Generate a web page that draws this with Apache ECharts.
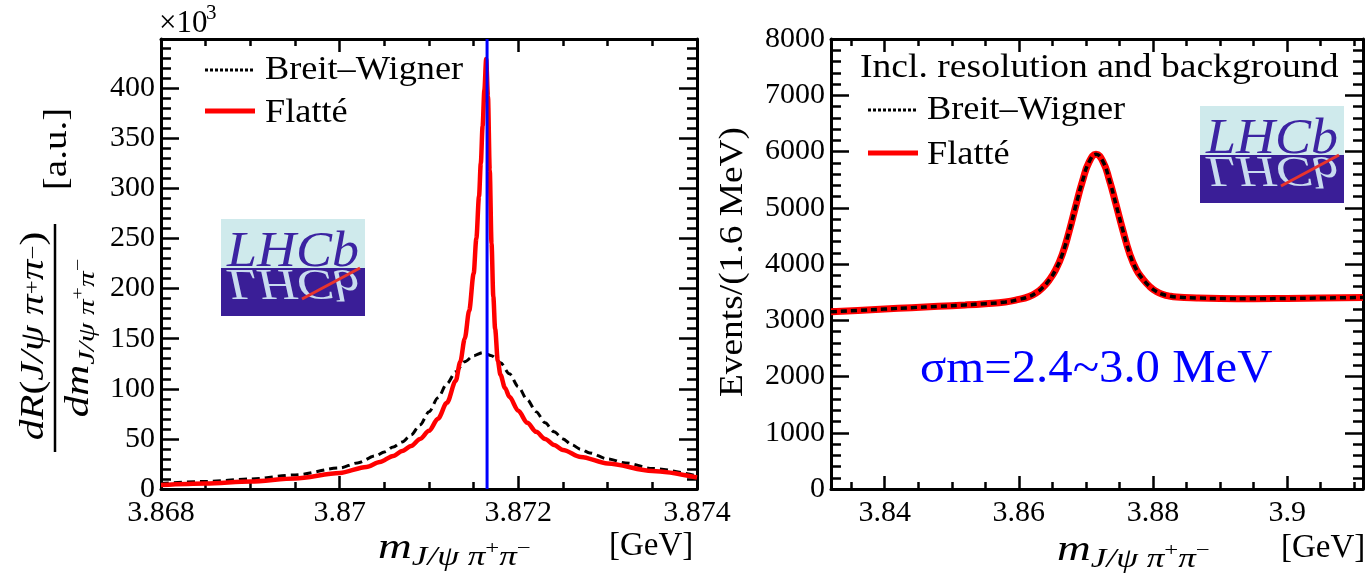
<!DOCTYPE html>
<html>
<head>
<meta charset="utf-8">
<script src="https://cdn.jsdelivr.net/npm/echarts@6/dist/echarts.min.js"></script>
<style>
  html, body { margin: 0; padding: 0; background: #fff; }
  #chart { width: 1365px; height: 577px; }
</style>
</head>
<body>
<div id="chart"></div>
<script>
// ---- Left panel: line shapes of the X(3872), dR/dm in arbitrary units (x10^3) ----
const bwMass = [3.8680, 3.8685, 3.8690, 3.8695, 3.8700, 3.8702, 3.8704, 3.8705, 3.8706, 3.8707,
                3.8708, 3.8709, 3.8710, 3.8711, 3.8712, 3.8713, 3.8714, 3.8715, 3.8716, 3.8717,
                3.8718, 3.8719, 3.8720, 3.8721, 3.8722, 3.8723, 3.8724, 3.8725, 3.8726, 3.8727,
                3.8728, 3.8730, 3.8732, 3.8735, 3.8740];
const bwRate = [5.5, 7.5, 10, 14, 21, 26, 33, 37, 42, 47,
                54, 64, 77, 91, 105, 117, 127, 133, 136, 133,
                126, 115, 102, 89, 77, 66, 57, 50, 44, 39.5,
                36, 30, 26, 20.5, 13];

const flatteMass = [3.8680, 3.8685, 3.8690, 3.8695, 3.8700, 3.8703, 3.87045, 3.8706, 3.8707, 3.8708,
                    3.8709, 3.8710, 3.8711, 3.8712, 3.8713, 3.87135, 3.8714, 3.87145, 3.8715, 3.87153,
                    3.87156, 3.87158, 3.8716, 3.87162, 3.87164, 3.87166, 3.87168, 3.8717, 3.87172, 3.87174,
                    3.87177, 3.8718, 3.87185, 3.8719, 3.872, 3.8721, 3.8722, 3.8723, 3.8724, 3.8725,
                    3.8727, 3.873, 3.8735, 3.874];
const flatteRate = [4, 5.5, 7.5, 10.5, 16, 22, 27, 33, 38, 43,
                    50, 58, 70, 86, 108, 127, 150, 178, 215, 250,
                    292, 325, 362, 398, 429, 392, 318, 245, 192, 160,
                    128, 114, 101, 92, 78, 66, 57, 50, 44, 39,
                    32, 25.5, 18, 11.5];

// D0 D*0 threshold marker
const markMass = 3.87165;

// ---- Right panel: events per 1.6 MeV incl. resolution and background ----
const yieldMass = [3.832, 3.836, 3.840, 3.844, 3.848, 3.852, 3.855, 3.858, 3.860, 3.8615,
                   3.8625, 3.8635, 3.8645, 3.8655, 3.8665, 3.8675, 3.8685, 3.8695, 3.8705, 3.8715,
                   3.8725, 3.8735, 3.8745, 3.8755, 3.8765, 3.8775, 3.8785, 3.8795, 3.8805, 3.8815,
                   3.8825, 3.8835, 3.8865, 3.890, 3.895, 3.900, 3.905, 3.9113];
const bwEvents = [3150, 3175, 3200, 3224, 3248, 3272, 3295, 3325, 3370, 3420,
                  3480, 3575, 3710, 3900, 4180, 4580, 5040, 5480, 5820, 5950,
                  5830, 5490, 5050, 4600, 4190, 3905, 3730, 3600, 3510, 3458,
                  3428, 3412, 3396, 3386, 3382, 3387, 3395, 3405];
const flatteEvents = [3150, 3175, 3200, 3224, 3248, 3272, 3295, 3325, 3370, 3420,
                      3480, 3575, 3710, 3900, 4180, 4580, 5040, 5480, 5820, 5950,
                      5830, 5490, 5050, 4600, 4190, 3905, 3730, 3600, 3510, 3458,
                      3428, 3412, 3396, 3386, 3382, 3387, 3395, 3405];

// Axis ranges and tick steps
const leftXRange = [3.868, 3.874];
const leftXStep = 0.002;
const leftYRange = [0, 449];
const leftYStep = 50;
const rightXRange = [3.832, 3.9113];
const rightYRange = [0, 8000];
const rightYStep = 1000;

const SERIF = 'Liberation Serif';
const DECOR_LAYER = 1;   // decorations live on their own canvas layer above the plot

function pairs(xs, ys) { return xs.map((x, i) => [x, ys[i]]); }
function plain(v) { return String(+v.toFixed(6)); }

function axisBase(extra) {
  return Object.assign({
    type: 'value',
    axisLine: { show: true, onZero: false, lineStyle: { color: '#000', width: 3 } },
    splitLine: { show: false },
    minorSplitLine: { show: false }
  }, extra);
}

function xAxisDef(grid, pos, range, step, labels) {
  const a = axisBase({
    gridIndex: grid, position: pos, min: range[0], max: range[1],
    axisTick: { show: true, inside: true, length: 13, lineStyle: { color: '#000', width: 2.5 } },
    minorTick: { show: true, splitNumber: 4, length: 7, lineStyle: { color: '#000', width: 2.5 } }
  });
  if (step) a.interval = step; else a.splitNumber = 4;
  a.axisLabel = labels
    ? { show: true, color: '#000', fontFamily: SERIF, fontSize: 30, margin: 9, formatter: plain,
        showMinLabel: !!step, showMaxLabel: !!step }
    : { show: false };
  return a;
}

function yAxisDef(grid, pos, range, step, labels, maxLabel) {
  const a = axisBase({
    gridIndex: grid, position: pos, min: range[0], max: range[1], interval: step,
    axisTick: { show: true, inside: true, length: 18, lineStyle: { color: '#000', width: 2.5 } },
    minorTick: { show: true, splitNumber: 5, length: 10, lineStyle: { color: '#000', width: 2.5 } }
  });
  a.axisLabel = labels
    ? { show: true, color: '#000', fontFamily: SERIF, fontSize: 30, margin: 6, formatter: plain,
        showMaxLabel: maxLabel }
    : { show: false };
  return a;
}

// LHCb logo badge
function logo(x0, y0) {
  const w = 144, h = 97, split = 49;
  return {
    type: 'group', x: x0, y: y0, silent: true, zlevel: DECOR_LAYER,
    children: [
      { type: 'rect', zlevel: DECOR_LAYER, shape: { x: 0, y: 0, width: w, height: split }, style: { fill: '#cfeaec' } },
      { type: 'rect', zlevel: DECOR_LAYER, shape: { x: 0, y: split, width: w, height: h - split }, style: { fill: '#3a1e97' } },
      { type: 'text', zlevel: DECOR_LAYER, x: 72, y: split + 14, scaleY: -0.9, scaleX: 1.08,
        style: { text: 'LHCb', fontFamily: SERIF, fontStyle: 'italic', fontSize: 50,
                 fill: '#c9dcef', align: 'center', verticalAlign: 'middle' } },
      { type: 'text', zlevel: DECOR_LAYER, x: 72, y: split - 15, scaleX: 1.08,
        style: { text: 'LHCb', fontFamily: SERIF, fontStyle: 'italic', fontSize: 50,
                 fill: '#3c23a2', align: 'center', verticalAlign: 'middle' } },
      { type: 'line', zlevel: DECOR_LAYER, shape: { x1: 81, y1: 80, x2: 139, y2: 49 },
        style: { stroke: '#e8342c', lineWidth: 3 } }
    ]
  };
}

function txt(x, y, text, size, opts) {
  const o = opts || {};
  return {
    type: 'text', x: x, y: y, rotation: o.rotation || 0, scaleX: o.scaleX || 1, silent: true,
    zlevel: DECOR_LAYER,
    style: Object.assign({
      text: text, fontFamily: SERIF, fontSize: size, fill: o.fill || '#000',
      fontStyle: o.italic ? 'italic' : 'normal',
      align: o.align || 'left', verticalAlign: o.valign || 'middle'
    }, o.rich ? { rich: o.rich } : {})
  };
}

function seg(x1, y1, x2, y2, stroke, width, dash) {
  return { type: 'line', silent: true, zlevel: DECOR_LAYER, shape: { x1: x1, y1: y1, x2: x2, y2: y2 },
           style: Object.assign({ stroke: stroke, lineWidth: width }, dash ? { lineDash: dash } : {}) };
}

// rich styles for J/psi pi+ pi- labels
function mathRich(main, sub, sup) {
  return {
    a: { fontFamily: SERIF, fontStyle: 'italic', fontSize: main, lineHeight: main + 8, verticalAlign: 'middle' },
    n: { fontFamily: SERIF, fontSize: main, lineHeight: main + 8, verticalAlign: 'middle' },
    s: { fontFamily: SERIF, fontStyle: 'italic', fontSize: sub, lineHeight: sub, verticalAlign: 'bottom' },
    p: { fontFamily: SERIF, fontSize: sup, lineHeight: sup, verticalAlign: 'middle' }
  };
}

const massTitle = '{a|m}{s|J/ψ π}{p|+}{s|π}{p|−}';

function legendRows(xLine, xText, yBW, yFl, s) {
  return [
    seg(xLine, yBW, xLine + 48, yBW, '#000', 3, [3, 2]),
    txt(xText, yBW, 'Breit–Wigner', s, { scaleX: 1.1 }),
    seg(xLine, yFl, xLine + 50, yFl, '#ff0000', 5),
    txt(xText, yFl + 2, 'Flatté', s, { scaleX: 1.1 })
  ];
}

const graphics = [].concat(
  // x10^3 exponent
  [txt(159, 24, '×10', 31), txt(206, 13, '3', 21)],
  // legends
  legendRows(205, 265, 70, 111, 33),
  [txt(860, 68, 'Incl. resolution and background', 33, { scaleX: 1.14 })],
  legendRows(868, 927, 110, 153, 33),
  // resolution annotation
  [txt(920, 370, 'σm=2.4~3.0 MeV', 46, { fill: '#0000ff', scaleX: 1.06 })],
  // logos
  [logo(221, 219), logo(1200, 106)],
  // y-axis titles
  [
    seg(55, 224, 55, 452, '#000', 2.5),
    txt(34, 336, '{a|dR}{n|(}{a|J/ψ π}{p|+}{a|π}{p|−}{n|)}', 33,
        { rotation: Math.PI / 2, align: 'center', scaleX: 1.25, rich: mathRich(33, 22, 20) }),
    txt(79, 338, '{a|dm}{s|J/ψ π}{p|+}{s|π}{p|−}', 33,
        { rotation: Math.PI / 2, align: 'center', scaleX: 1.3, rich: mathRich(33, 24, 17) }),
    txt(57, 149, '[a.u.]', 34, { rotation: Math.PI / 2, align: 'center', scaleX: 1.15 }),
    txt(733, 262, 'Events/(1.6 MeV)', 34, { rotation: Math.PI / 2, align: 'center', scaleX: 1.1 })
  ],
  // x-axis titles
  [
    txt(378, 549, massTitle, 36, { scaleX: 1.3, rich: mathRich(36, 27, 19) }),
    txt(609, 546, '[GeV]', 33),
    txt(1057, 551, massTitle, 36, { scaleX: 1.3, rich: mathRich(36, 27, 19) }),
    txt(1281, 548, '[GeV]', 33)
  ]
);

const option = {
  animation: false,
  backgroundColor: '#fff',
  grid: [
    { left: 161, top: 39, width: 536, height: 450, show: false, outerBoundsMode: 'none', containLabel: false },
    { left: 831, top: 39, width: 532, height: 450, show: false, outerBoundsMode: 'none', containLabel: false }
  ],
  xAxis: [
    xAxisDef(0, 'bottom', leftXRange, leftXStep, true),
    xAxisDef(0, 'top', leftXRange, leftXStep, false),
    xAxisDef(1, 'bottom', rightXRange, null, true),
    xAxisDef(1, 'top', rightXRange, null, false)
  ],
  yAxis: [
    yAxisDef(0, 'left', leftYRange, leftYStep, true, false),
    yAxisDef(0, 'right', leftYRange, leftYStep, false, false),
    yAxisDef(1, 'left', rightYRange, rightYStep, true, true),
    yAxisDef(1, 'right', rightYRange, rightYStep, false, true)
  ],
  series: [
    { name: 'Breit–Wigner', type: 'line', xAxisIndex: 0, yAxisIndex: 0, data: pairs(bwMass, bwRate),
      smooth: 0.3, smoothMonotone: 'x', symbol: 'none', silent: true,
      lineStyle: { color: '#000', width: 3, type: [8, 5] } },
    { name: 'Flatté', type: 'line', xAxisIndex: 0, yAxisIndex: 0, data: pairs(flatteMass, flatteRate),
      smooth: 0.3, smoothMonotone: 'x', symbol: 'none', silent: true,
      lineStyle: { color: '#ff0000', width: 4.5 } },
    { name: 'threshold', type: 'line', xAxisIndex: 0, yAxisIndex: 0,
      data: [[markMass, leftYRange[0]], [markMass, leftYRange[1]]],
      symbol: 'none', silent: true, lineStyle: { color: '#0000ff', width: 3 } },
    { name: 'Flatté', type: 'line', xAxisIndex: 2, yAxisIndex: 2, data: pairs(yieldMass, flatteEvents),
      smooth: 0.5, symbol: 'none', silent: true,
      lineStyle: { color: '#ff0000', width: 7 } },
    { name: 'Breit–Wigner', type: 'line', xAxisIndex: 2, yAxisIndex: 2, data: pairs(yieldMass, bwEvents),
      smooth: 0.5, symbol: 'none', silent: true,
      lineStyle: { color: '#000', width: 3.5, type: [6, 4] } }
  ],
  graphic: graphics
};

const chart = echarts.init(document.getElementById('chart'), null, { renderer: 'canvas' });
chart.setOption(option);
</script>
</body>
</html>
